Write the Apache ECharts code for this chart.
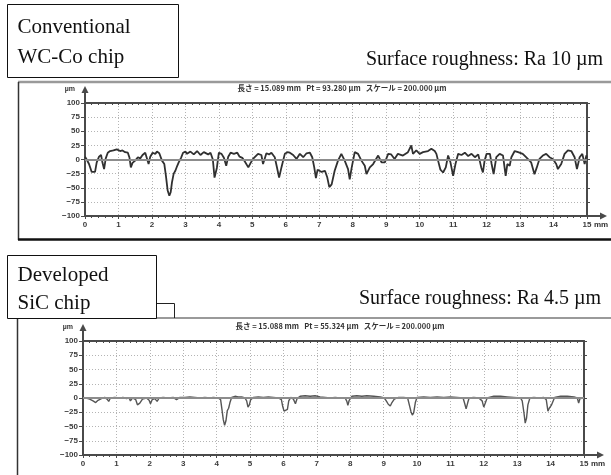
<!DOCTYPE html>
<html>
<head>
<meta charset="utf-8">
<script src="https://cdn.jsdelivr.net/npm/echarts@6/dist/echarts.min.js"></script>
<style>
  html, body { margin: 0; padding: 0; background: #ffffff; }
  #chart { width: 611px; height: 475px; }
</style>
</head>
<body>
<div id="chart"></div>
<script>
// Profile position (mm) and height (µm) pairs for each chip surface
const wcCoProfile = [
  [0, 5], [0.05, 0], [0.12, -8], [0.2, -22], [0.25, -25], [0.3, -22], [0.35, -5], [0.42, 5], [0.48, 8],
  [0.52, -5], [0.57, -17], [0.62, 2], [0.68, 12], [0.75, 15], [0.8, 13], [0.85, 16], [0.9, 15], [0.95, 18],
  [1.0, 17], [1.05, 15], [1.12, 16], [1.2, 13], [1.28, 12], [1.33, 3], [1.37, -14], [1.42, -6], [1.5, -2],
  [1.58, 4], [1.65, 2], [1.72, 8], [1.8, 12], [1.85, 9], [1.9, -8], [1.95, 5], [2.02, 12], [2.1, 10],
  [2.15, 14], [2.22, 11], [2.3, -2], [2.37, -8], [2.42, -30], [2.47, -55], [2.52, -64], [2.56, -58],
  [2.6, -40], [2.65, -25], [2.7, -20], [2.75, -12], [2.8, -5], [2.87, 3], [2.93, 12], [3.0, 14], [3.05, 10],
  [3.1, 9], [3.15, 14], [3.2, 13], [3.25, 9], [3.3, 11], [3.35, 15], [3.4, 14], [3.45, 8], [3.5, 10],
  [3.55, 13], [3.6, 14], [3.68, 9], [3.75, 12], [3.82, 0], [3.87, -32], [3.9, -35], [3.94, -15],
  [4.0, 12], [4.08, 10], [4.15, 3], [4.22, -11], [4.28, 5], [4.35, 12], [4.45, 10], [4.55, 12], [4.62, 5],
  [4.7, 3], [4.78, -4], [4.88, -14], [4.95, -6], [5.02, 1], [5.17, 10], [5.27, 8], [5.32, -8], [5.42, 11],
  [5.5, 9], [5.57, 12], [5.67, 4], [5.74, -15], [5.8, -32], [5.87, -14], [5.97, 10], [6.05, 13], [6.12, 12],
  [6.22, 8], [6.32, 1], [6.42, 10], [6.52, 4], [6.62, 11], [6.72, 12], [6.79, 4], [6.85, -14], [6.9, -33],
  [6.95, -18], [7.07, -22], [7.17, -20], [7.24, -32], [7.3, -49], [7.37, -44], [7.46, -20], [7.56, -2],
  [7.66, 10], [7.76, -2], [7.86, -17], [7.91, -35], [7.97, -14], [8.06, 13], [8.16, 10], [8.26, -2],
  [8.36, -11], [8.41, -26], [8.51, -14], [8.61, -8], [8.76, 7], [8.86, -5], [8.96, -5], [9.06, 10],
  [9.15, 9], [9.25, 1], [9.35, 10], [9.5, 7], [9.65, 13], [9.75, 25], [9.8, 10], [9.9, 16], [10.0, 10],
  [10.1, 13], [10.25, 15], [10.35, 19], [10.45, 15], [10.5, 10], [10.55, -2], [10.62, -18], [10.7, -23],
  [10.78, -14], [10.85, 7], [10.92, -5], [11.0, -29], [11.07, -8], [11.15, 10], [11.25, 8], [11.35, 12],
  [11.45, 6], [11.55, 10], [11.65, 4], [11.75, 9], [11.84, -14], [11.89, -23], [11.94, -2], [12.0, 10],
  [12.1, 10], [12.15, -8], [12.21, -26], [12.29, 4], [12.39, 10], [12.49, 7], [12.57, -29], [12.62, -8],
  [12.69, -11], [12.74, 4], [12.84, 15], [12.94, 13], [13.08, 10], [13.18, 4], [13.33, -5], [13.43, -26],
  [13.5, -14], [13.58, 1], [13.68, 7], [13.78, 10], [13.88, 4], [13.98, 1], [14.08, -8], [14.13, -17],
  [14.23, -8], [14.33, 10], [14.43, 16], [14.53, 15], [14.63, 4], [14.7, -17], [14.78, 4], [14.86, 10],
  [14.93, -8], [14.98, 7], [15.0, 3]
];

const sicProfile = [
  [0, 1], [0.1, 0], [0.2, -2], [0.3, -5], [0.38, -8], [0.45, -4], [0.55, -1], [0.65, 1], [0.72, -2],
  [0.77, -6], [0.82, 0], [0.95, 1], [1.1, 0], [1.2, 1], [1.3, -1], [1.38, 0], [1.42, -5], [1.48, 0],
  [1.58, -3], [1.63, -12], [1.7, -9], [1.78, -2], [1.9, 0], [1.98, -4], [2.02, -10], [2.07, -3],
  [2.15, -1], [2.22, -6], [2.28, 0], [2.4, 1], [2.55, 0], [2.7, 1], [2.8, -3], [2.9, 1], [3.05, 1],
  [3.2, 2], [3.35, 1], [3.5, 0], [3.65, 1], [3.8, 0], [3.9, 1], [4.05, 0], [4.12, -3], [4.16, -20],
  [4.2, -38], [4.24, -48], [4.28, -40], [4.32, -22], [4.36, -18], [4.4, -8], [4.45, 1], [4.55, 3],
  [4.65, 2], [4.75, 2], [4.85, 0], [4.9, -5], [4.94, -16], [4.98, -12], [5.02, -3], [5.1, 1], [5.25, 2],
  [5.4, 1], [5.55, 2], [5.7, 1], [5.85, 0], [5.94, -3], [5.98, -15], [6.02, -23], [6.07, -25], [6.12, -20],
  [6.16, -5], [6.22, 1], [6.3, -2], [6.36, -10], [6.41, -1], [6.5, 3], [6.65, 4], [6.8, 3], [6.95, 4],
  [7.1, 2], [7.25, 1], [7.4, 0], [7.55, 1], [7.7, 0], [7.85, 0], [7.9, -6], [7.93, -13], [7.97, -4],
  [8.05, 3], [8.2, 4], [8.35, 3], [8.5, 4], [8.7, 3], [8.9, 2], [9.02, 0], [9.08, -5], [9.14, -11],
  [9.2, -14], [9.25, -8], [9.32, -2], [9.45, 1], [9.6, 1], [9.72, 0], [9.77, -12], [9.82, -24], [9.86, -30],
  [9.9, -26], [9.95, -8], [10.0, 1], [10.2, 2], [10.4, 1], [10.6, 2], [10.8, 1], [11.0, 2], [11.2, 1],
  [11.38, 0], [11.43, -10], [11.47, -19], [11.52, -8], [11.56, 0], [11.7, 1], [11.85, 0], [11.95, -5],
  [12.0, -16], [12.05, -8], [12.1, 0], [12.3, 3], [12.5, 3], [12.7, 2], [12.9, 1], [13.1, 0], [13.15, -5],
  [13.2, -25], [13.24, -44], [13.28, -35], [13.32, -12], [13.38, 0], [13.5, 1], [13.65, 0], [13.8, 1],
  [13.87, -3], [13.92, -23], [13.96, -18], [14.02, -13], [14.07, -6], [14.12, 1], [14.3, 3], [14.5, 3],
  [14.7, 2], [14.8, 0], [14.84, -9], [14.88, -1], [15, 0]
];

// Axis ranges and tick spacing
const mmRange = [0, 15];
const mmStep = 1;
const umRange = [-100, 100];
const umStep = 25;

// Panel texts
const panelNames = ['Conventional\nWC-Co chip', 'Developed\nSiC chip'];
const roughnessNotes = ['Surface roughness: Ra 10 \u00b5m', 'Surface roughness: Ra 4.5 \u00b5m'];
const headerNotes = [
  '長さ = 15.089 mm   Pt = 93.280 \u00b5m   スケール = 200.000 \u00b5m',
  '長さ = 15.088 mm   Pt = 55.324 \u00b5m   スケール = 200.000 \u00b5m'
];
const profiles = [wcCoProfile, sicProfile];

// Plot rectangles for the two profilometer panels
const grids = [
  { left: 85, top: 103, width: 502, height: 113 },
  { left: 83, top: 341, width: 501, height: 114 }
];

const axisColor = '#4a4a4a';
const tickFont = { fontFamily: 'Liberation Sans, Arial, sans-serif', fontSize: 8, fontWeight: 'bold', color: '#3c3c3c' };
const dotted = { color: '#b4b4b4', width: 1, type: [1, 2] };

const xAxes = [];
const yAxes = [];
const series = [];

grids.forEach((g, i) => {
  // bottom scale with labels
  xAxes.push({
    gridIndex: i, type: 'value', min: mmRange[0], max: mmRange[1], interval: mmStep,
    position: 'bottom',
    axisLine: { show: true, onZero: false, lineStyle: { color: axisColor, width: 2 } },
    axisTick: { show: true, length: 3, lineStyle: { color: axisColor, width: 1 } },
    minorTick: { show: true, splitNumber: 5, length: 2, lineStyle: { color: axisColor, width: 1 } },
    axisLabel: Object.assign({ margin: 5 }, tickFont),
    splitLine: { show: true, lineStyle: dotted }
  });
  // top border with tick marks
  xAxes.push({
    gridIndex: i, type: 'value', min: mmRange[0], max: mmRange[1], interval: mmStep,
    position: 'top',
    axisLine: { show: true, onZero: false, lineStyle: { color: axisColor, width: 2 } },
    axisTick: { show: true, inside: true, length: 2, lineStyle: { color: axisColor, width: 1 } },
    minorTick: { show: true, splitNumber: 5, length: 2, lineStyle: { color: axisColor, width: 1 } },
    axisLabel: { show: false },
    splitLine: { show: false }
  });
  // left scale with labels
  yAxes.push({
    gridIndex: i, type: 'value', min: umRange[0], max: umRange[1], interval: umStep,
    position: 'left',
    axisLine: { show: true, onZero: false, lineStyle: { color: axisColor, width: 2 } },
    axisTick: { show: true, length: 4, lineStyle: { color: axisColor, width: 1 } },
    axisLabel: Object.assign({ margin: 5 }, tickFont, {
      formatter: v => (v < 0 ? '\u2212' + Math.abs(v) : String(v))
    }),
    splitLine: { show: true, lineStyle: dotted }
  });
  // right border
  yAxes.push({
    gridIndex: i, type: 'value', min: umRange[0], max: umRange[1], interval: umStep,
    position: 'right',
    axisLine: { show: true, onZero: false, lineStyle: { color: axisColor, width: 2 } },
    axisTick: { show: true, length: 3, lineStyle: { color: axisColor, width: 1 } },
    axisLabel: { show: false },
    splitLine: { show: false }
  });

  series.push({
    type: 'line',
    xAxisIndex: i * 2,
    yAxisIndex: i * 2,
    data: profiles[i],
    showSymbol: false,
    silent: true,
    lineStyle: { color: i === 0 ? '#303030' : '#555555', width: i === 0 ? 1.8 : 1.4 },
    markLine: {
      silent: true,
      symbol: 'none',
      label: { show: false },
      lineStyle: { color: '#8c8c8c', width: 2, type: 'solid' },
      data: [{ yAxis: 0 }]
    },
    z: 3
  });
});

// Decorations: panel frames, label boxes, axis arrows and captions
const graphic = [];
const serif = 'Liberation Serif, Times New Roman, serif';

// frame of the upper panel
graphic.push(
  { type: 'line', shape: { x1: 18, y1: 82, x2: 611, y2: 82 }, style: { stroke: '#9a9a9a', lineWidth: 2.5 } },
  { type: 'line', shape: { x1: 18.5, y1: 82, x2: 18.5, y2: 240 }, style: { stroke: '#333', lineWidth: 1.5 } },
  { type: 'line', shape: { x1: 18, y1: 239.5, x2: 611, y2: 239.5 }, style: { stroke: '#111', lineWidth: 2.5 } }
);
// frame of the lower panel
graphic.push(
  { type: 'line', shape: { x1: 18, y1: 318, x2: 611, y2: 318 }, style: { stroke: '#9a9a9a', lineWidth: 2 } },
  { type: 'line', shape: { x1: 17.5, y1: 318, x2: 17.5, y2: 475 }, style: { stroke: '#333', lineWidth: 1.5 } },
  { type: 'polyline', shape: { points: [[157, 303.5], [174.5, 303.5], [174.5, 318]] }, style: { stroke: '#222', fill: null, lineWidth: 1 } }
);

// label boxes
const boxes = [
  { x: 7.5, y: 4.5, w: 171, h: 73 },
  { x: 7.5, y: 255.5, w: 149, h: 63 }
];
boxes.forEach((b, i) => {
  graphic.push({
    type: 'rect', shape: { x: b.x, y: b.y, width: b.w, height: b.h },
    style: { fill: '#fff', stroke: '#111', lineWidth: 1 }, z: 20
  });
  graphic.push({
    type: 'text', x: b.x + 10, y: b.y + (i === 0 ? 8 : 6), z: 21,
    style: { text: panelNames[i], font: '21px ' + serif, fill: '#111', lineHeight: i === 0 ? 30 : 28 }
  });
});

// roughness captions
graphic.push(
  { type: 'text', x: 603, y: 60, style: { text: roughnessNotes[0], font: '20px ' + serif, fill: '#111', align: 'right', verticalAlign: 'middle' } },
  { type: 'text', x: 601, y: 299, style: { text: roughnessNotes[1], font: '20px ' + serif, fill: '#111', align: 'right', verticalAlign: 'middle' } }
);

grids.forEach((g, i) => {
  const xL = g.left, yT = g.top, xR = g.left + g.width, yB = g.top + g.height;
  // measurement header
  graphic.push({
    type: 'text', x: xL + 257, y: yT - 15,
    style: { text: headerNotes[i], font: 'bold 7.5px "Noto Sans CJK JP", sans-serif', fill: '#333', align: 'center', verticalAlign: 'middle' }
  });
  // vertical axis arrow and unit
  graphic.push(
    { type: 'line', shape: { x1: xL, y1: yT, x2: xL, y2: yT - 13 }, style: { stroke: axisColor, lineWidth: 2 } },
    { type: 'polygon', shape: { points: [[xL - 3.5, yT - 10], [xL + 3.5, yT - 10], [xL, yT - 17]] }, style: { fill: axisColor } },
    { type: 'text', x: xL - 10, y: yT - 14, style: { text: '\u00b5m', font: 'bold 7px Liberation Sans, sans-serif', fill: '#333', align: 'right', verticalAlign: 'middle' } }
  );
  // horizontal axis arrow and unit
  graphic.push(
    { type: 'line', shape: { x1: xR, y1: yB, x2: xR + 16, y2: yB }, style: { stroke: axisColor, lineWidth: 2 } },
    { type: 'polygon', shape: { points: [[xR + 13, yB - 3.5], [xR + 13, yB + 3.5], [xR + 20, yB]] }, style: { fill: axisColor } },
    { type: 'text', x: xR + 7, y: yB + 9, style: { text: 'mm', font: 'bold 8px Liberation Sans, sans-serif', fill: '#333', align: 'left', verticalAlign: 'middle' } }
  );
});

const chart = echarts.init(document.getElementById('chart'), null, { renderer: 'canvas' });
chart.setOption({
  animation: false,
  backgroundColor: '#ffffff',
  grid: grids.map(g => Object.assign({ containLabel: false }, g)),
  xAxis: xAxes,
  yAxis: yAxes,
  series: series,
  graphic: graphic
});
</script>
</body>
</html>
